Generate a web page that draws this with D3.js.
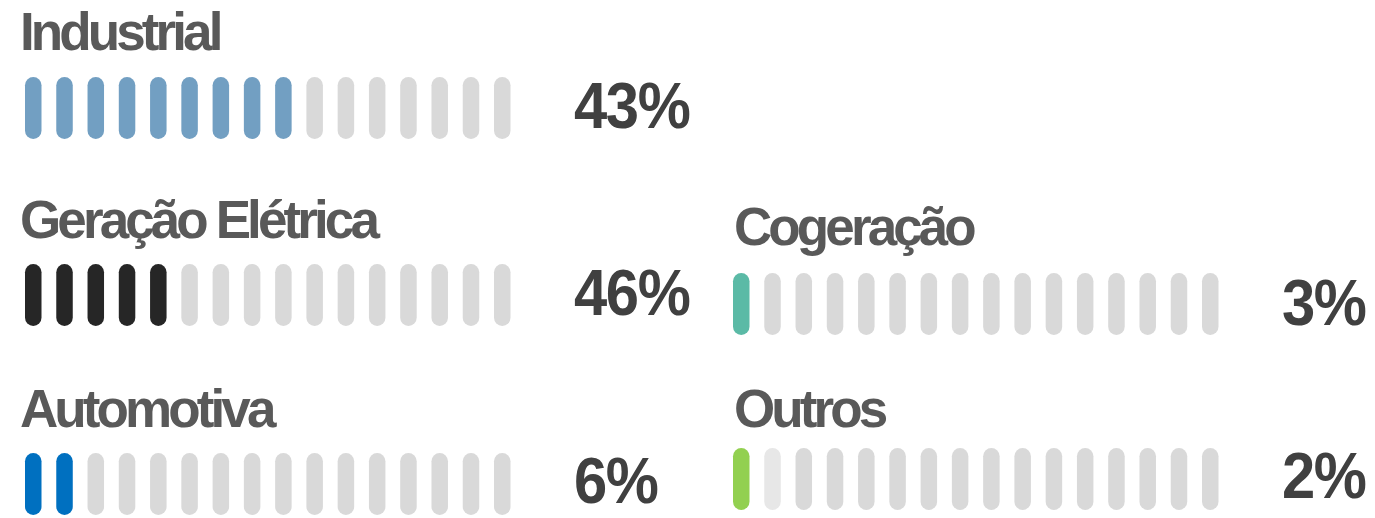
<!DOCTYPE html>
<html>
<head>
<meta charset="utf-8">
<script src="https://cdn.jsdelivr.net/npm/d3@7/dist/d3.min.js"></script>
<style>
  html, body { margin: 0; padding: 0; background: #ffffff; }
  svg { display: block; }
</style>
</head>
<body>
<svg id="chart" width="1375" height="518"></svg>
<script>
// ---- data ----
const categories = ["Industrial", "Geração Elétrica", "Automotiva", "Cogeração", "Outros"];
const percentLabels = ["43%", "46%", "6%", "3%", "2%"];
const filledPills = [9, 5, 2, 1, 1];
const partialPills = [0, 0, 0, 0, 1];
const totalPills = 16;
const colors = ["#729fc2", "#262626", "#0070c0", "#5bbaa6", "#92d050"];

// ---- layout (positions per panel) ----
const panels = [
  { x0: 25,  titleX: 20,  titleY: 50,  pillTop: 77,  pctX: 574,  pctY: 128 },
  { x0: 25,  titleX: 20,  titleY: 238, pillTop: 264, pctX: 574,  pctY: 315 },
  { x0: 25,  titleX: 20,  titleY: 427, pillTop: 453, pctX: 574,  pctY: 503 },
  { x0: 733, titleX: 734, titleY: 245, pillTop: 273, pctX: 1282, pctY: 325 },
  { x0: 733, titleX: 734, titleY: 427, pillTop: 448, pctX: 1282, pctY: 498 }
];
const pillW = 16.5, pillH = 62, span = 469;

const svg = d3.select("#chart");

categories.forEach((cat, i) => {
  const p = panels[i];
  const g = svg.append("g");
  const x = d3.scalePoint().domain(d3.range(totalPills)).range([p.x0, p.x0 + span]);

  g.append("text")
    .attr("x", p.titleX).attr("y", p.titleY)
    .attr("font-family", "Liberation Sans, Arial, sans-serif")
    .attr("font-weight", "bold")
    .attr("font-size", 53)
    .attr("letter-spacing", "-3.9px")
    .attr("fill", "#595959")
    .text(cat);

  g.selectAll("rect.pill")
    .data(d3.range(totalPills))
    .join("rect")
    .attr("class", "pill")
    .attr("x", d => x(d))
    .attr("y", p.pillTop)
    .attr("width", pillW)
    .attr("height", pillH)
    .attr("rx", pillW / 2)
    .attr("fill", d => d < filledPills[i] ? colors[i]
                     : (d < filledPills[i] + partialPills[i] ? "#e7e7e7" : "#d9d9d9"));

  g.append("text")
    .attr("transform", `translate(${p.pctX},${p.pctY}) scale(0.92,1)`)
    .attr("font-family", "Liberation Sans, Arial, sans-serif")
    .attr("font-weight", "bold")
    .attr("font-size", 65)
    .attr("letter-spacing", "-1.5px")
    .attr("fill", "#404040")
    .text(percentLabels[i]);
});
</script>
</body>
</html>
